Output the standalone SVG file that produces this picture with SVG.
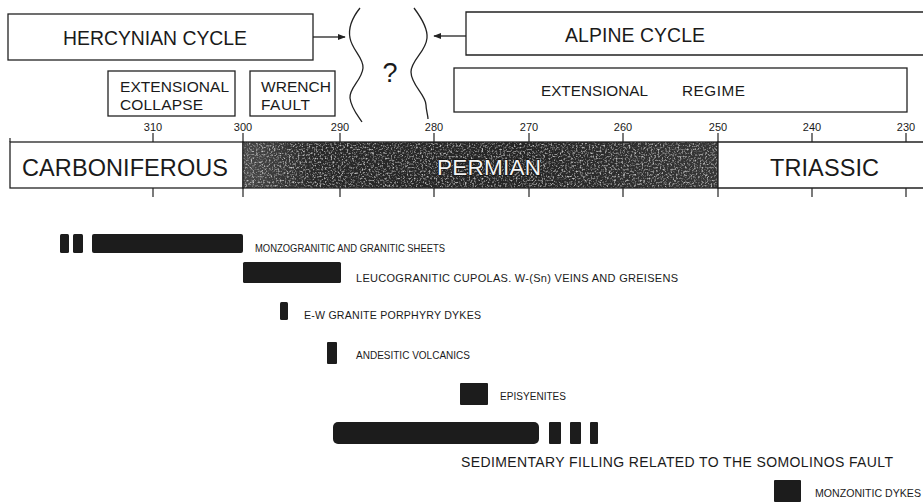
<svg xmlns="http://www.w3.org/2000/svg" width="923" height="502" viewBox="0 0 923 502">
<style>
.box{fill:#fff;stroke:#222;stroke-width:1.3}
.t{font-family:"Liberation Sans",Arial,sans-serif;fill:#1a1a1a}
.lab{font-family:"Liberation Sans",Arial,sans-serif;fill:#1a1a1a}
.num{font-family:"Liberation Sans",Arial,sans-serif;fill:#1a1a1a;font-size:11px;text-anchor:middle}
.tick{stroke:#222;stroke-width:1.2}
.bar{fill:#1c1c1c}
.wave{fill:none;stroke:#222;stroke-width:1.3}
.conn{stroke:#222;stroke-width:1.3;fill:none}
</style>
<defs>
<marker id="ah" viewBox="0 0 10 10" refX="9" refY="5" markerWidth="8" markerHeight="8" orient="auto-start-reverse" markerUnits="userSpaceOnUse">
<path d="M0,1 L10,5 L0,9 z" fill="#222"/>
</marker>
<filter id="grain" x="0" y="0" width="100%" height="100%">
<feTurbulence type="fractalNoise" baseFrequency="0.55" numOctaves="3" seed="7" result="n"/>
<feColorMatrix in="n" type="matrix" values="0 0 0 0 0.7  0 0 0 0 0.7  0 0 0 0 0.7  0 0 0 -2.8 1.45" result="g"/>
<feComposite in="g" in2="SourceGraphic" operator="in"/>
</filter>
<linearGradient id="pshade" x1="0" y1="0" x2="1" y2="0">
<stop offset="0" stop-color="#4a4a4a"/>
<stop offset="0.15" stop-color="#282828"/>
<stop offset="0.6" stop-color="#252525"/>
<stop offset="1" stop-color="#363636"/>
</linearGradient>
</defs>
<rect width="923" height="502" fill="#fff"/>

<g id="hercynian-cycle">
<rect class="box" x="8" y="14" width="305" height="46"/>
<text class="t" x="63" y="45" font-size="19.4" textLength="184">HERCYNIAN CYCLE</text>
</g>

<g id="alpine-cycle">
<path class="box" d="M930,12 H466 V55 H930"/>
<text class="t" x="565" y="42" font-size="19.4" textLength="140">ALPINE CYCLE</text>
</g>

<g id="unknown">
<path class="wave" d="M360,8 C352,18 348,28 350,38 C352,50 364,58 363,68 C362,80 349,88 350,98 C351,108 358,116 362,122"/>
<path class="wave" d="M414,8 C420,16 428,28 427,38 C426,52 411,60 411,72 C411,85 426,95 426,105 C426,110 428,115 428,119"/>
<text class="t" x="390" y="82" font-size="27" text-anchor="middle">?</text>
</g>

<g id="extensional-collapse">
<rect class="box" x="108" y="71" width="127" height="45"/>
<text class="t" x="120" y="92" font-size="15.5" textLength="109">EXTENSIONAL</text>
<text class="t" x="120" y="110" font-size="15.5" textLength="83">COLLAPSE</text>
</g>

<g id="wrench-fault">
<rect class="box" x="250" y="71" width="85" height="45"/>
<text class="t" x="261" y="92" font-size="15.5" textLength="70">WRENCH</text>
<text class="t" x="261" y="110" font-size="15.5" textLength="49">FAULT</text>
</g>

<g id="extensional-regime">
<rect class="box" x="454" y="68" width="453" height="44"/>
<text class="t" x="541" y="96" font-size="15.3" textLength="107">EXTENSIONAL</text>
<text class="t" x="682" y="96" font-size="15.3" textLength="63">REGIME</text>
</g>

<g id="time-scale">
<g>
<text class="num" x="153" y="131">310</text>
<text class="num" x="243" y="131">300</text>
<text class="num" x="340" y="131">290</text>
<text class="num" x="434" y="131">280</text>
<text class="num" x="529" y="131">270</text>
<text class="num" x="623" y="131">260</text>
<text class="num" x="718" y="131">250</text>
<text class="num" x="812" y="131">240</text>
<text class="num" x="906" y="131">230</text>
</g>
<g id="carboniferous">
<rect class="box" x="10" y="142" width="233" height="46"/>
<text class="t" x="22" y="176" font-size="23.5" textLength="206">CARBONIFEROUS</text>
</g>
<g id="permian">
<rect x="243" y="142" width="475" height="46" fill="url(#pshade)"/>
<rect x="243" y="142" width="475" height="46" fill="#000" filter="url(#grain)" opacity="0.85"/>
<rect x="243" y="142" width="475" height="46" fill="none" stroke="#222" stroke-width="1.3"/>
<text x="437" y="175" font-size="22.5" textLength="104" font-family="'Liberation Sans',Arial,sans-serif" fill="#f4f4f4" stroke="#111" stroke-width="1.6" paint-order="stroke">PERMIAN</text>
</g>
<g id="triassic">
<path class="box" d="M930,142 H718 V188 H930"/>
<text class="t" x="770" y="176" font-size="23.5" textLength="109">TRIASSIC</text>
</g>
<g class="tick">
<line x1="10" y1="138" x2="10" y2="142"/>
<line x1="153" y1="133" x2="153" y2="142"/><line x1="153" y1="188" x2="153" y2="197"/>
<line x1="243" y1="133" x2="243" y2="142"/><line x1="243" y1="188" x2="243" y2="197"/>
<line x1="340" y1="133" x2="340" y2="142"/><line x1="340" y1="188" x2="340" y2="197"/>
<line x1="434" y1="133" x2="434" y2="142"/><line x1="434" y1="188" x2="434" y2="197"/>
<line x1="529" y1="133" x2="529" y2="142"/><line x1="529" y1="188" x2="529" y2="197"/>
<line x1="623" y1="133" x2="623" y2="142"/><line x1="623" y1="188" x2="623" y2="197"/>
<line x1="718" y1="133" x2="718" y2="142"/><line x1="718" y1="188" x2="718" y2="197"/>
<line x1="812" y1="133" x2="812" y2="142"/><line x1="812" y1="188" x2="812" y2="197"/>
<line x1="906" y1="133" x2="906" y2="142"/><line x1="906" y1="188" x2="906" y2="197"/>
</g>
</g>

<g id="connectors">
<line class="conn" x1="313" y1="37" x2="345" y2="37" marker-end="url(#ah)"/>
<line class="conn" x1="466" y1="36" x2="434" y2="36" marker-end="url(#ah)"/>
</g>

<g id="monzogranitic-sheets">
<rect class="bar" x="60" y="234" width="9" height="19" rx="1.5"/>
<rect class="bar" x="73" y="234" width="10" height="19" rx="1.5"/>
<rect class="bar" x="92" y="234" width="151" height="19" rx="2"/>
<text class="lab" x="255" y="252" font-size="10.5" textLength="190" lengthAdjust="spacingAndGlyphs">MONZOGRANITIC AND GRANITIC SHEETS</text>
</g>

<g id="leucogranitic-cupolas">
<rect class="bar" x="243" y="262" width="98" height="21" rx="1.5"/>
<text class="lab" x="356" y="282" font-size="11" textLength="322">LEUCOGRANITIC CUPOLAS. W-(Sn) VEINS AND GREISENS</text>
</g>

<g id="granite-porphyry-dykes">
<rect class="bar" x="280" y="302" width="8" height="18" rx="1.5"/>
<text class="lab" x="304" y="319" font-size="10.6" textLength="177">E-W GRANITE PORPHYRY DYKES</text>
</g>

<g id="andesitic-volcanics">
<rect class="bar" x="327" y="342" width="10" height="22" rx="1"/>
<text class="lab" x="356" y="359" font-size="10" textLength="114">ANDESITIC VOLCANICS</text>
</g>

<g id="episyenites">
<rect class="bar" x="460" y="383" width="28" height="22" rx="1"/>
<text class="lab" x="500" y="400" font-size="10" textLength="66">EPISYENITES</text>
</g>

<g id="sedimentary-filling">
<rect class="bar" x="333" y="422" width="206" height="22" rx="5"/>
<rect class="bar" x="549" y="422" width="12" height="22" rx="1"/>
<rect class="bar" x="570" y="422" width="11" height="22" rx="1"/>
<rect class="bar" x="590" y="422" width="8" height="22" rx="1"/>
<text class="lab" x="461" y="467" font-size="14" textLength="432">SEDIMENTARY FILLING RELATED TO THE SOMOLINOS FAULT</text>
</g>

<g id="monzonitic-dykes">
<rect class="bar" x="774" y="480" width="27" height="22" rx="1"/>
<text class="lab" x="815" y="497" font-size="10.6" textLength="106">MONZONITIC DYKES</text>
</g>
</svg>
